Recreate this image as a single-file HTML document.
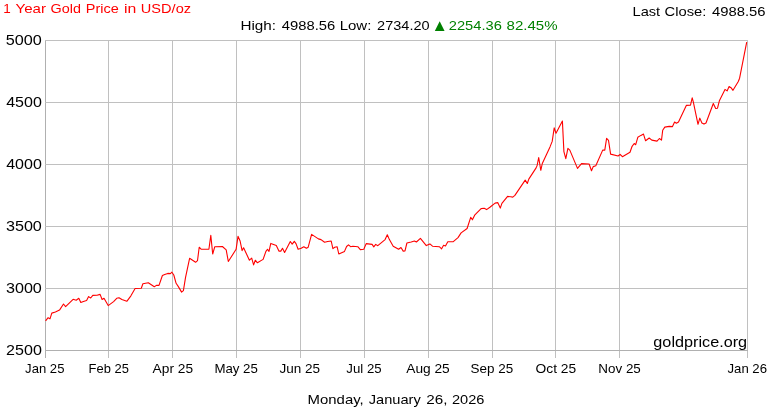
<!DOCTYPE html>
<html><head><meta charset="utf-8"><title>1 Year Gold Price in USD/oz</title>
<style>html,body{margin:0;padding:0;background:#fff;overflow:hidden;} svg{display:block;} text{will-change:transform;}</style>
</head><body>
<svg width="770" height="410" viewBox="0 0 770 410" font-family='"Liberation Sans", sans-serif'>
<rect width="770" height="410" fill="#fff"/>
<g stroke-width="1" shape-rendering="crispEdges"><line x1="45.5" y1="40" x2="45.5" y2="358" stroke="#b0b0b0"/><line x1="108.5" y1="40" x2="108.5" y2="358" stroke="#c0c0c0"/><line x1="172.5" y1="40" x2="172.5" y2="358" stroke="#c0c0c0"/><line x1="236.5" y1="40" x2="236.5" y2="358" stroke="#c0c0c0"/><line x1="300.5" y1="40" x2="300.5" y2="358" stroke="#c0c0c0"/><line x1="364.5" y1="40" x2="364.5" y2="358" stroke="#c0c0c0"/><line x1="428.5" y1="40" x2="428.5" y2="358" stroke="#c0c0c0"/><line x1="492.5" y1="40" x2="492.5" y2="358" stroke="#c0c0c0"/><line x1="555.5" y1="40" x2="555.5" y2="358" stroke="#c0c0c0"/><line x1="619.5" y1="40" x2="619.5" y2="358" stroke="#c0c0c0"/><line x1="747.5" y1="40" x2="747.5" y2="358" stroke="#c0c0c0"/><line x1="45" y1="40.5" x2="748" y2="40.5" stroke="#c0c0c0"/><line x1="45" y1="102.5" x2="748" y2="102.5" stroke="#c0c0c0"/><line x1="45" y1="164.5" x2="748" y2="164.5" stroke="#c0c0c0"/><line x1="45" y1="226.5" x2="748" y2="226.5" stroke="#c0c0c0"/><line x1="45" y1="288.5" x2="748" y2="288.5" stroke="#c0c0c0"/><line x1="45" y1="350.5" x2="748" y2="350.5" stroke="#b0b0b0"/></g>
<path d="M45.6,320.9 L48.1,317.7 L50.0,318.8 L51.8,313.1 L55.4,312.0 L59.5,310.1 L63.5,304.0 L65.6,306.6 L73.1,299.3 L76.2,300.2 L78.8,298.3 L80.8,302.5 L83.4,301.4 L86.6,300.4 L88.6,296.6 L90.7,298.0 L92.8,295.4 L97.0,295.2 L100.1,294.4 L102.1,299.5 L104.0,298.3 L108.2,305.6 L113.6,301.6 L116.7,298.3 L119.0,297.7 L121.9,299.5 L126.8,301.3 L130.9,295.8 L135.1,288.5 L141.3,288.3 L142.9,283.8 L148.3,282.8 L154.3,286.7 L156.4,285.4 L159.0,285.4 L162.4,275.5 L164.7,274.5 L167.8,273.4 L170.4,273.6 L171.9,272.2 L173.8,275.0 L176.1,283.3 L178.2,286.4 L181.6,292.1 L183.4,290.6 L185.5,277.6 L189.6,258.3 L195.6,262.3 L197.5,260.7 L199.2,247.2 L201.3,249.3 L208.9,249.3 L210.8,235.3 L212.7,254.0 L214.8,246.7 L222.4,246.5 L226.2,249.8 L228.3,261.5 L236.1,249.3 L238.0,236.3 L240.1,241.0 L242.1,250.6 L243.6,247.7 L249.4,260.2 L251.7,258.1 L253.6,264.9 L255.3,260.2 L257.4,262.8 L263.1,259.4 L265.9,251.4 L267.5,249.3 L269.0,251.4 L270.8,243.4 L276.3,245.5 L278.9,251.1 L280.8,251.1 L282.5,248.3 L284.6,252.4 L290.3,241.5 L292.2,244.1 L294.3,241.3 L296.0,243.6 L298.1,249.3 L301.2,248.3 L303.8,246.7 L306.4,248.3 L308.2,247.2 L311.6,234.4 L318.4,238.9 L321.0,239.6 L324.6,242.3 L327.7,241.5 L331.2,241.0 L332.9,248.6 L334.7,247.2 L337.1,246.7 L338.8,254.0 L344.5,251.4 L346.6,246.5 L348.5,244.8 L350.6,246.7 L352.9,246.2 L357.8,246.7 L360.3,249.6 L363.8,249.3 L366.2,243.6 L372.1,244.4 L373.8,246.9 L375.7,244.4 L377.8,245.7 L385.1,239.6 L387.3,234.8 L389.4,239.6 L393.2,246.2 L398.6,249.3 L401.0,247.5 L403.2,251.1 L405.0,250.9 L406.9,243.0 L411.2,242.0 L414.4,241.0 L416.4,242.0 L420.4,238.4 L426.3,245.6 L429.9,243.9 L432.5,246.2 L439.3,246.7 L441.6,248.8 L443.6,245.3 L445.5,246.0 L447.8,241.8 L453.0,241.8 L458.0,237.6 L461.1,232.9 L467.1,228.5 L470.7,217.3 L472.4,219.8 L474.9,214.8 L481.1,208.6 L484.2,208.3 L486.6,209.6 L489.9,207.2 L495.1,203.1 L497.7,202.6 L500.3,208.1 L501.9,203.4 L507.6,196.4 L510.7,196.8 L512.8,197.1 L514.9,195.4 L525.2,180.1 L527.3,183.5 L528.8,179.1 L536.1,167.9 L537.1,165.6 L538.7,157.5 L540.8,170.3 L542.3,163.5 L550.0,146.9 L552.2,141.4 L554.2,127.8 L556.0,133.3 L562.4,121.1 L563.9,151.6 L565.8,158.6 L567.9,148.4 L569.8,150.1 L577.5,168.4 L581.5,163.6 L589.1,164.0 L591.5,170.8 L593.2,166.6 L595.8,165.8 L602.7,150.1 L604.8,150.1 L606.6,138.3 L608.5,140.4 L610.6,154.1 L618.1,156.0 L620.1,154.3 L622.4,156.7 L630.0,152.2 L632.1,146.3 L634.2,143.5 L635.7,144.7 L637.8,137.3 L640.9,135.4 L643.5,134.1 L645.6,140.8 L649.2,138.0 L651.8,140.1 L657.0,141.1 L659.4,138.5 L661.5,140.1 L662.7,130.2 L664.8,127.1 L669.2,126.4 L672.5,126.6 L674.6,122.0 L676.4,123.2 L678.5,122.0 L686.3,105.4 L690.5,105.1 L692.2,97.8 L693.3,101.9 L698.0,124.3 L699.8,118.1 L701.9,123.0 L704.0,124.1 L706.0,123.0 L713.3,103.5 L715.7,108.5 L717.5,108.2 L719.5,100.4 L725.0,89.4 L727.1,90.9 L729.1,86.6 L731.0,87.7 L733.0,90.3 L738.3,81.5 L739.6,78.2 L746.7,42.1" fill="none" stroke="#ff0000" stroke-width="1.1" stroke-linejoin="round"/>
<polygon points="434.8,31 444.6,31 439.7,21.3" fill="#008000"/>
<g class="t"><text x="3.31" y="13.25" font-size="13.5" fill="#ff0000" textLength="7.49" lengthAdjust="spacingAndGlyphs">1</text><text x="15.48" y="13.25" font-size="13.5" fill="#ff0000" textLength="30.46" lengthAdjust="spacingAndGlyphs">Year</text><text x="50.59" y="13.25" font-size="13.5" fill="#ff0000" textLength="30.38" lengthAdjust="spacingAndGlyphs">Gold</text><text x="85.74" y="13.25" font-size="13.5" fill="#ff0000" textLength="32.96" lengthAdjust="spacingAndGlyphs">Price</text><text x="123.95" y="13.25" font-size="13.5" fill="#ff0000" textLength="12.30" lengthAdjust="spacingAndGlyphs">in</text><text x="140.83" y="13.25" font-size="13.5" fill="#ff0000" textLength="50.19" lengthAdjust="spacingAndGlyphs">USD/oz</text><text x="240.45" y="29.80" font-size="13.5" fill="#000000" textLength="35.54" lengthAdjust="spacingAndGlyphs">High:</text><text x="281.77" y="29.80" font-size="13.5" fill="#000000" textLength="53.41" lengthAdjust="spacingAndGlyphs">4988.56</text><text x="339.65" y="29.80" font-size="13.5" fill="#000000" textLength="31.69" lengthAdjust="spacingAndGlyphs">Low:</text><text x="377.12" y="29.80" font-size="13.5" fill="#000000" textLength="52.48" lengthAdjust="spacingAndGlyphs">2734.20</text><text x="448.79" y="29.80" font-size="13.5" fill="#008000" textLength="53.07" lengthAdjust="spacingAndGlyphs">2254.36</text><text x="506.52" y="29.80" font-size="13.5" fill="#008000" textLength="51.01" lengthAdjust="spacingAndGlyphs">82.45%</text><text x="632.53" y="15.90" font-size="13.5" fill="#000000" textLength="27.68" lengthAdjust="spacingAndGlyphs">Last</text><text x="664.56" y="15.90" font-size="13.5" fill="#000000" textLength="41.76" lengthAdjust="spacingAndGlyphs">Close:</text><text x="711.91" y="15.90" font-size="13.5" fill="#000000" textLength="53.59" lengthAdjust="spacingAndGlyphs">4988.56</text><text x="307.63" y="403.80" font-size="13.5" fill="#000000" textLength="56.05" lengthAdjust="spacingAndGlyphs">Monday,</text><text x="368.82" y="403.80" font-size="13.5" fill="#000000" textLength="51.91" lengthAdjust="spacingAndGlyphs">January</text><text x="426.24" y="403.80" font-size="13.5" fill="#000000" textLength="21.21" lengthAdjust="spacingAndGlyphs">26,</text><text x="451.94" y="403.80" font-size="13.5" fill="#000000" textLength="32.46" lengthAdjust="spacingAndGlyphs">2026</text><text x="653.35" y="346.80" font-size="14.5" fill="#000000" textLength="93.75" lengthAdjust="spacingAndGlyphs">goldprice.org</text><text x="5.87" y="44.85" font-size="14.2" fill="#000000" textLength="35.99" lengthAdjust="spacingAndGlyphs">5000</text><text x="6.20" y="106.85" font-size="14.2" fill="#000000" textLength="35.64" lengthAdjust="spacingAndGlyphs">4500</text><text x="6.20" y="168.85" font-size="14.2" fill="#000000" textLength="35.64" lengthAdjust="spacingAndGlyphs">4000</text><text x="5.95" y="230.85" font-size="14.2" fill="#000000" textLength="35.91" lengthAdjust="spacingAndGlyphs">3500</text><text x="5.95" y="292.85" font-size="14.2" fill="#000000" textLength="35.91" lengthAdjust="spacingAndGlyphs">3000</text><text x="6.08" y="354.85" font-size="14.2" fill="#000000" textLength="35.75" lengthAdjust="spacingAndGlyphs">2500</text><text x="25.09" y="372.80" font-size="13.5" fill="#000000" textLength="39.37" lengthAdjust="spacingAndGlyphs">Jan 25</text><text x="88.58" y="372.80" font-size="13.5" fill="#000000" textLength="40.25" lengthAdjust="spacingAndGlyphs">Feb 25</text><text x="152.62" y="372.80" font-size="13.5" fill="#000000" textLength="40.46" lengthAdjust="spacingAndGlyphs">Apr 25</text><text x="214.38" y="372.80" font-size="13.5" fill="#000000" textLength="43.51" lengthAdjust="spacingAndGlyphs">May 25</text><text x="279.45" y="372.80" font-size="13.5" fill="#000000" textLength="40.57" lengthAdjust="spacingAndGlyphs">Jun 25</text><text x="346.34" y="372.80" font-size="13.5" fill="#000000" textLength="35.27" lengthAdjust="spacingAndGlyphs">Jul 25</text><text x="406.26" y="372.80" font-size="13.5" fill="#000000" textLength="43.49" lengthAdjust="spacingAndGlyphs">Aug 25</text><text x="470.56" y="372.80" font-size="13.5" fill="#000000" textLength="42.63" lengthAdjust="spacingAndGlyphs">Sep 25</text><text x="535.57" y="372.80" font-size="13.5" fill="#000000" textLength="40.66" lengthAdjust="spacingAndGlyphs">Oct 25</text><text x="598.34" y="372.80" font-size="13.5" fill="#000000" textLength="42.50" lengthAdjust="spacingAndGlyphs">Nov 25</text><text x="727.49" y="372.80" font-size="13.5" fill="#000000" textLength="39.51" lengthAdjust="spacingAndGlyphs">Jan 26</text></g>
</svg>
</body></html>
